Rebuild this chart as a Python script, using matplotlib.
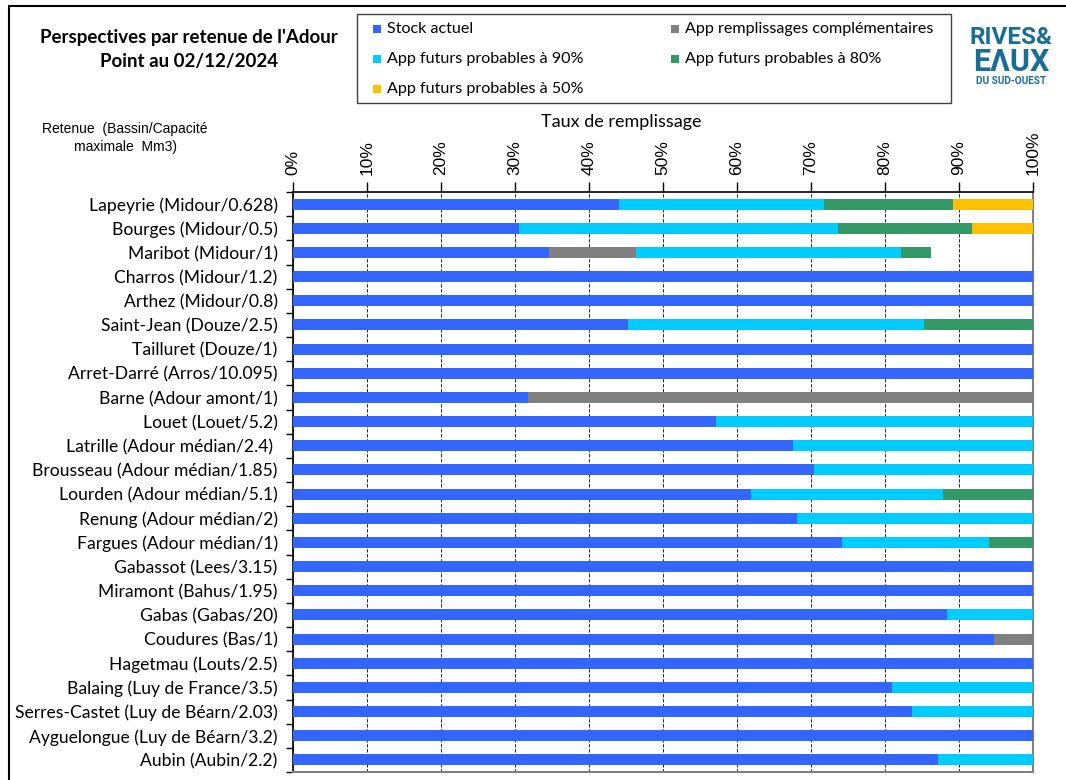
import matplotlib
matplotlib.use("Agg")
import matplotlib.pyplot as plt
import numpy as np
from matplotlib.patches import Rectangle

labels = [
    "Lapeyrie (Midour/0.628)", "Bourges (Midour/0.5)", "Maribot (Midour/1)",
    "Charros (Midour/1.2)", "Arthez (Midour/0.8)", "Saint-Jean (Douze/2.5)",
    "Tailluret (Douze/1)", "Arret-Darré (Arros/10.095)", "Barne (Adour amont/1)",
    "Louet (Louet/5.2)", "Latrille (Adour médian/2.4) ", "Brousseau (Adour médian/1.85)",
    "Lourden (Adour médian/5.1)", "Renung (Adour médian/2)", "Fargues (Adour médian/1)",
    "Gabassot (Lees/3.15)", "Miramont (Bahus/1.95)", "Gabas (Gabas/20)",
    "Coudures (Bas/1)", "Hagetmau (Louts/2.5)", "Balaing (Luy de France/3.5)",
    "Serres-Castet (Luy de Béarn/2.03)", "Ayguelongue (Luy de Béarn/3.2)", "Aubin (Aubin/2.2)",
]
stock = [44.0, 30.5, 34.6, 100, 100, 45.3, 100, 100, 31.7, 57.2, 67.6, 70.4,
         61.9, 68.1, 74.2, 100, 100, 88.4, 94.7, 100, 81.0, 83.6, 100, 87.2]
compl = [0, 0, 11.8, 0, 0, 0, 0, 0, 68.3, 0, 0, 0,
         0, 0, 0, 0, 0, 0, 5.3, 0, 0, 0, 0, 0]
p90 = [27.7, 43.2, 35.8, 0, 0, 40.0, 0, 0, 0, 42.8, 32.4, 29.6,
       26.0, 31.9, 19.9, 0, 0, 11.6, 0, 0, 19.0, 16.4, 0, 12.8]
p80 = [17.5, 18.1, 4.0, 0, 0, 14.7, 0, 0, 0, 0, 0, 0,
       12.1, 0, 5.9, 0, 0, 0, 0, 0, 0, 0, 0, 0]
p50 = [10.8, 8.2, 0, 0, 0, 0, 0, 0, 0, 0, 0, 0,
       0, 0, 0, 0, 0, 0, 0, 0, 0, 0, 0, 0]
xticks = [0, 10, 20, 30, 40, 50, 60, 70, 80, 90, 100]

series = [
    ("Stock actuel", stock, "#3366ff"),
    ("App remplissages complémentaires", compl, "#808080"),
    ("App futurs probables à 90%", p90, "#00ccff"),
    ("App futurs probables à 80%", p80, "#339966"),
    ("App futurs probables à 50%", p50, "#ffc000"),
]

W, H = 1066, 780
def fx(px): return px / W
def fy(py): return 1 - py / H

fig = plt.figure(figsize=(10.66, 7.80), dpi=100)
ax = fig.add_axes([fx(293), fy(772), (1033-293)/W, (772-192)/H])

y = np.arange(len(labels))
left = np.zeros(len(labels))
for name, vals, col in series:
    v = np.array(vals, dtype=float)
    ax.barh(y, v, left=left, height=0.45, color=col, edgecolor="none", zorder=3)
    left += v

ax.set_xlim(0, 100)
ax.set_ylim(len(labels)-0.5, -0.5)
ax.xaxis.tick_top()
ax.set_xticks(xticks)
ax.set_xticklabels([f"{t}%" for t in xticks], rotation=90, family="Liberation Sans", fontsize=12.5)
ax.tick_params(axis="x", direction="out", length=7, width=1, color="black", pad=5)
ax.set_yticks(y)
ax.set_yticklabels(labels, family="Lato", fontsize=12.6)
ax.tick_params(axis="y", length=0, pad=11)
ax.set_yticks(np.arange(-0.5, len(labels), 1), minor=True)
ax.tick_params(axis="y", which="minor", length=5, width=1, color="black", direction="out")
ax.grid(axis="x", linestyle=(0, (4, 2)), color="black", linewidth=0.6, zorder=1)
for s in ["top", "left"]:
    ax.spines[s].set_color("black")
    ax.spines[s].set_linewidth(1.2)
for s in ["right", "bottom"]:
    ax.spines[s].set_color("#808080")
    ax.spines[s].set_linewidth(1.5)

fig.text(fx(621), fy(122), "Taux de remplissage", ha="center", va="center",
         family="Lato", fontsize=13)

# Title
fig.text(fx(189), fy(38), "Perspectives par retenue de l'Adour", ha="center", va="center",
         family="Lato", fontweight="bold", fontsize=13.5)
fig.text(fx(189), fy(62), "Point au 02/12/2024", ha="center", va="center",
         family="Lato", fontweight="bold", fontsize=13.5)

fig.text(fx(125), fy(129), "Retenue  (Bassin/Capacité", ha="center", va="center",
         family="Liberation Sans", fontsize=10)
fig.text(fx(125), fy(147), "maximale  Mm3)", ha="center", va="center",
         family="Liberation Sans", fontsize=10)

# Legend (manual layout matching the reference box)
fig.add_artist(Rectangle((fx(357), fy(103)), (951-357)/W, (103-14)/H, transform=fig.transFigure,
                         fill=False, edgecolor="#404040", linewidth=1.0))
legend_pos = {
    "Stock actuel": (377, 29),
    "App remplissages complémentaires": (675, 29),
    "App futurs probables à 90%": (377, 59),
    "App futurs probables à 80%": (675, 59),
    "App futurs probables à 50%": (377, 89),
}
for name, vals, col in series:
    mx, my = legend_pos[name]
    fig.add_artist(Rectangle((fx(mx-4), fy(my+4)), 8/W, 8/H, transform=fig.transFigure,
                             facecolor=col, edgecolor="none"))
    fig.text(fx(mx+10), fy(my), name, ha="left", va="center", family="Lato", fontsize=11.6)

# Logo
logo = "#1a6e96"
fig.text(fx(1011), fy(37), "RIVES&", ha="center", va="center", color=logo,
         family=["Roboto", "DejaVu Sans"], fontweight="bold", fontsize=17.5)
fig.text(fx(1011), fy(62), "EΛUX", ha="center", va="center", color=logo,
         family=["Roboto", "DejaVu Sans"], fontweight="bold", fontsize=22)
fig.text(fx(1011), fy(81), "DU SUD-OUEST", ha="center", va="center", color=logo,
         family=["Roboto", "DejaVu Sans"], fontweight="bold", fontsize=7.2)

# Figure border
fig.add_artist(Rectangle((fx(9), -0.1), 1.2, fy(6)+0.1, transform=fig.transFigure,
                         fill=False, edgecolor="black", linewidth=1.5))

fig.savefig("out.png", dpi=100)
